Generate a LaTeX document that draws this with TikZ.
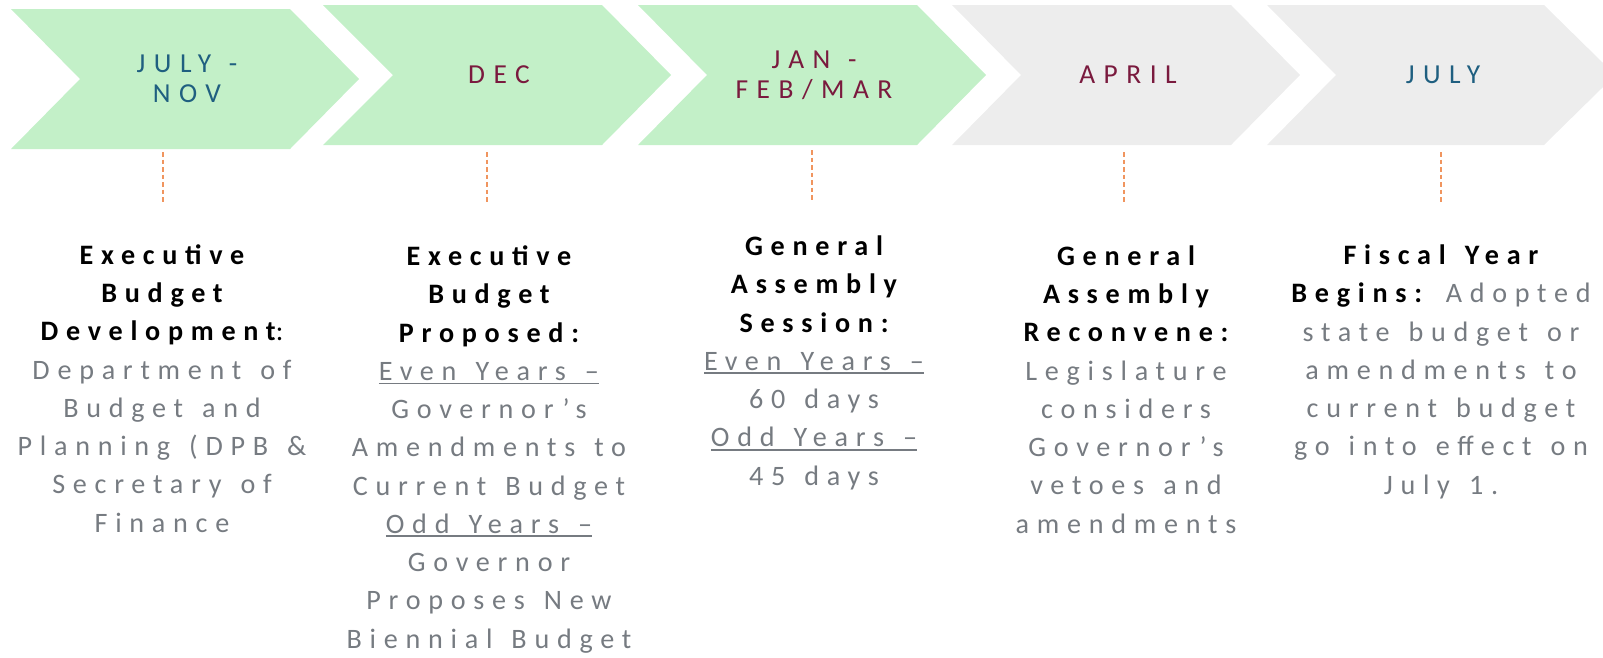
\documentclass[tikz,border=0pt]{standalone}
\usepackage{fontspec}
\setmainfont{Carlito}
\newfontfamily\bodyfont[LetterSpace=27.5, WordSpace=1.35]{Carlito}
\newfontfamily\monthfont[LetterSpace=31, WordSpace=1.2]{Carlito}
\usetikzlibrary{positioning}
\definecolor{chevgreen}{HTML}{C3F0C8}
\definecolor{chevgrey}{HTML}{EDEDED}
\definecolor{monthblue}{HTML}{1F5F80}
\definecolor{monthred}{HTML}{7A1A3E}
\definecolor{bodygrey}{HTML}{767B81}
\definecolor{dashorange}{HTML}{F0955F}
\newsavebox\yearbox
\newcommand\yearline[1]{\sbox\yearbox{#1}\rlap{\rule[-1.1pt]{\wd\yearbox}{0.5pt}}\usebox\yearbox}
\newcommand\stagehead[1]{{\bfseries\color{black}#1}}
\tikzset{greenchev/.style={fill=chevgreen}, % Phases already under way
greychev/.style={fill=chevgrey}, % Phases still to come
month/.style={font=\monthfont\fontsize{7.8pt}{8.5pt}\selectfont, align=center, inner sep=0},
stage/.style={font=\bodyfont\fontsize{8pt}{10.87pt}\selectfont, text=bodygrey,
align=center, anchor=base, inner sep=0}, % base = baseline of the last line
tick/.style={draw=dashorange, line width=0.15mm, dash pattern=on 0.45mm off 0.3mm}}

\begin{document}
\begin{tikzpicture}[x=0.01cm, y=-0.01cm]
    \useasboundingbox (0,0) rectangle (1603,657);

    % chevrons
    \fill[greenchev] (11,9) -- (290,9) -- (359,79) -- (290,149) -- (11,149) -- (80,79) -- cycle;
    \fill[greenchev] (323,5) -- (602,5) -- (671,75) -- (602,145) -- (323,145) -- (393,75) -- cycle;
    \fill[greenchev] (638,5) -- (917,5) -- (986,75) -- (917,145) -- (638,145) -- (707,75) -- cycle;
    \fill[greychev] (952,5) -- (1231,5) -- (1300,75) -- (1231,145) -- (952,145) -- (1021,75) -- cycle;
    \fill[greychev] (1267,5) -- (1544,5) -- (1603,63) -- (1603,87) -- (1544,145) -- (1267,145) -- (1336,75) -- cycle;

    \node[month, text=monthblue] (julnov) at (187,79) {JULY -\\NOV};
    \node[month, text=monthred] (dec) at (499,75) {DEC};
    \node[month, text=monthred] (janmar) at (814,75) {JAN -\\FEB/MAR};
    \node[month, text=monthred] (apr) at (1128,75) {APRIL};
    \node[month, text=monthblue] (jul) at (1443,75) {JULY};

    % stages
    \node[stage] (develop) at (162,532) {\stagehead{Executive}\\\stagehead{Budget}\\\stagehead{Development}{\color{black}:}\\
        Department of\\Budget and\\Planning (DPB \&\\Secretary of\\Finance};
    \node[stage] (propose) at (489,648) {\stagehead{Executive}\\\stagehead{Budget}\\\stagehead{Proposed:}\\
        \yearline{Even Years –}\\Governor’s\\Amendments to\\Current Budget\\\yearline{Odd Years –}\\Governor\\Proposes New\\Biennial Budget};
    \node[stage] (session) at (814,485) {\stagehead{General}\\\stagehead{Assembly}\\\stagehead{Session:}\\
        \yearline{Even Years –}\\60 days\\\yearline{Odd Years –}\\45 days};
    \node[stage] (reconvene) at (1126,533) {\stagehead{General}\\\stagehead{Assembly}\\\stagehead{Reconvene:}\\
        Legislature\\considers\\Governor’s\\vetoes and\\amendments};
    \node[stage] (fiscal) at (1441,494) {\stagehead{Fiscal Year}\\\stagehead{Begins:} Adopted\\state budget or\\amendments to\\current budget\\go into effect on\\July 1.};

    % ticks
    \coordinate (d1) at (163,152);
    \coordinate (d2) at (487,152);
    \coordinate (d3) at (812,150);
    \coordinate (d4) at (1124,152);
    \coordinate (d5) at (1441,152);
    \draw[tick] (d1) -- ++(0,52);
    \draw[tick] (d2) -- ++(0,52);
    \draw[tick] (d3) -- ++(0,52);
    \draw[tick] (d4) -- ++(0,52);
    \draw[tick] (d5) -- ++(0,52);

\end{tikzpicture}
\end{document}
